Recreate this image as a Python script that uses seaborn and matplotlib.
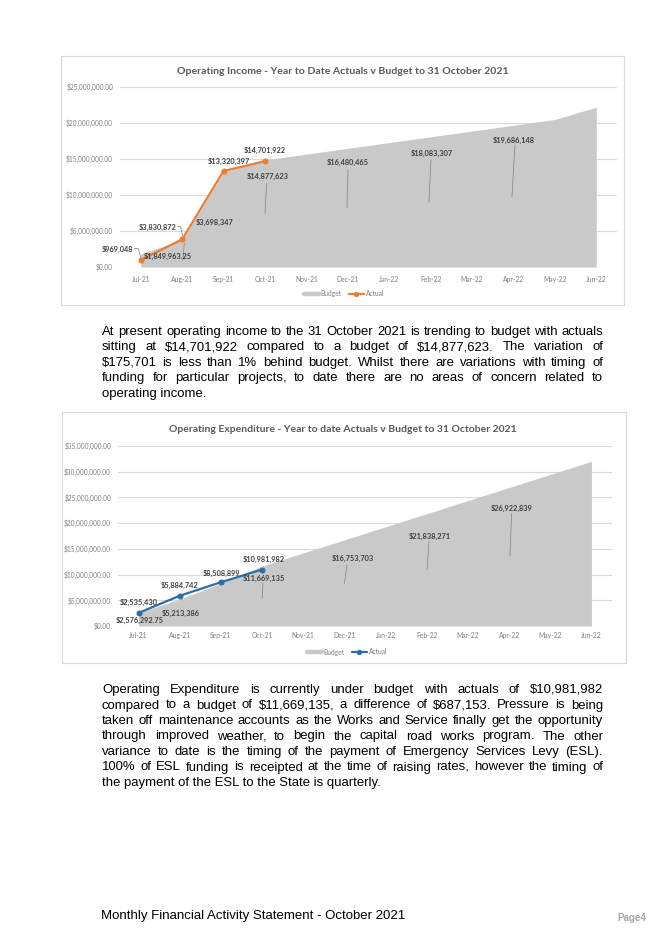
import matplotlib
matplotlib.use("Agg")
import matplotlib.pyplot as plt
import seaborn as sns
import numpy as np
import pandas as pd
from matplotlib.lines import Line2D
from matplotlib.patches import Rectangle

# ---------------- data ----------------
months = ["Jul-21", "Aug-21", "Sep-21", "Oct-21", "Nov-21", "Dec-21",
          "Jan-22", "Feb-22", "Mar-22", "Apr-22", "May-22", "Jun-22"]

income_budget = [1849963.25, 3698347, 13150000, 14877623, 15680000, 16480465,
                 17280000, 18083307, 18880000, 19686148, 20490000, 22200000]
income_actual = [969048, 3830872, 13320397, 14701922]

exp_budget = [2576292.75, 5213386, 8300000, 11669135, 14210000, 16753703,
              19300000, 21838271, 24380000, 26922839, 29470000, 32000000]
exp_actual = [2535430, 5884742, 8508899, 10981982]

income_title = "Operating Income - Year to Date Actuals v Budget to 31 October 2021"
exp_title = "Operating Expenditure - Year to date Actuals v Budget to 31 October 2021"

para1 = [
    "At present operating income to the 31 October 2021 is trending to budget with actuals",
    "sitting at $14,701,922 compared to a budget of $14,877,623. The variation of",
    "$175,701 is less than 1% behind budget. Whilst there are variations with timing of",
    "funding for particular projects, to date there are no areas of concern related to",
    "operating income.",
]
para2 = [
    "Operating Expenditure is currently under budget with actuals of $10,981,982",
    "compared to a budget of $11,669,135, a difference of $687,153. Pressure is being",
    "taken off maintenance accounts as the Works and Service finally get the opportunity",
    "through improved weather, to begin the capital road works program. The other",
    "variance to date is the timing of the payment of Emergency Services Levy (ESL).",
    "100% of ESL funding is receipted at the time of raising rates, however the timing of",
    "the payment of the ESL to the State is quarterly.",
]
footer = "Monthly Financial Activity Statement - October 2021"
page_no = "Page4"

# ---------------- style ----------------
sns.set_theme(style="white")
plt.rcParams["font.family"] = ["Lato", "DejaVu Sans"]
plt.rcParams["text.parse_math"] = False

W, H, DPI = 665, 941, 100
fig = plt.figure(figsize=(W / DPI, H / DPI), dpi=DPI)
fig.patch.set_facecolor("white")
renderer = fig.canvas.get_renderer()

BUDGET_C = "#C9C9C9"
GRID_C = "#D9D9D9"
TICK_C = "#7F7F7F"
TITLE_C = "#595959"
LABEL_C = "#404040"
LEADER_C = "#8C8C8C"


def fx(x):
    return x / W


def fy(y):
    return 1 - y / H


def add_axes_px(left, top, right, bottom):
    return fig.add_axes([fx(left), fy(bottom), (right - left) / W, (bottom - top) / H])


def fit_text(t, target):
    fs = t.get_fontsize()
    w = t.get_window_extent(renderer).width
    t.set_fontsize(fs * target / w)


def box(left, top, right, bottom):
    fig.add_artist(Rectangle((fx(left), fy(bottom)), (right - left) / W, (bottom - top) / H,
                             transform=fig.transFigure, fill=False, edgecolor="#D9D9D9", lw=0.8))


def draw_chart(ax, budget, actual, ymax, step, color, title, title_xy, title_w,
               labels, legend_xy, xpad):
    idx = np.arange(len(months))
    df_b = pd.DataFrame({"i": idx, "v": budget})
    df_a = pd.DataFrame({"i": idx[:len(actual)], "v": actual})
    ax.fill_between(df_b["i"], df_b["v"], color=BUDGET_C, lw=0, zorder=2)
    sns.lineplot(data=df_a, x="i", y="v", ax=ax, color=color, lw=1.6, marker="o",
                 markersize=3.6, markeredgecolor=color, zorder=4)
    ax.set_xlim(-0.5, len(months) - 0.5)
    ax.set_ylim(0, ymax)
    ax.set_xticks(idx)
    ax.set_xticklabels(months)
    yt = np.arange(0, ymax + 1, step)
    ax.set_yticks(yt)
    ax.set_yticklabels(["${:,.2f}".format(v) for v in yt])
    ax.set_xlabel("")
    ax.set_ylabel("")
    for s in ax.spines.values():
        s.set_visible(False)
    ax.yaxis.grid(True, color=GRID_C, lw=0.8, zorder=0)
    ax.set_axisbelow(True)
    ax.tick_params(axis="y", length=0, pad=5, labelsize=4.7, labelcolor=TICK_C)
    ax.tick_params(axis="x", length=0, pad=xpad, labelsize=4.9, labelcolor=TICK_C)
    ax.set_facecolor("none")

    t = fig.text(fx(title_xy[0]), fy(title_xy[1]), title, ha="center", va="center",
                 fontsize=8, fontweight="bold", color=TITLE_C)
    fit_text(t, title_w)

    series = {"a": actual, "b": budget}
    for key, i, txt, dx, dy, leader in labels:
        X, Y = ax.transData.transform((i, series[key][i]))
        fig.text(fx(X + dx), fy(H - Y + dy), txt, ha="center", va="center",
                 fontsize=5.3, fontweight="bold", color=LABEL_C, zorder=6)
        if leader:
            xs = [fx(X + p[0]) for p in leader]
            ys = [fy(H - Y + p[1]) for p in leader]
            fig.add_artist(Line2D(xs, ys, transform=fig.transFigure, color=LEADER_C,
                                  lw=0.6, zorder=5))

    handles = [Line2D([], [], color=BUDGET_C, lw=3.2),
               Line2D([], [], color=color, lw=1.6, marker="o", markersize=2.8)]
    fig.legend(handles, ["Budget", "Actual"], loc="center",
               bbox_to_anchor=(fx(legend_xy[0]), fy(legend_xy[1])), ncol=2,
               frameon=False, fontsize=4.8, handlelength=2.3, handletextpad=0.3,
               columnspacing=1.0, labelcolor=TICK_C)


# ---------------- chart 1 ----------------
box(61, 56, 624, 305)
ax1 = add_axes_px(120, 87, 617, 267)
labels1 = [
    ("a", 0, "$969,048", -23.2, -10.7, [(-6.4, -11.4), (-2.4, -11.4), (0, -2.7)]),
    ("b", 0, "$1,849,963.25", 26.8, 3.0, None),
    ("a", 1, "$3,830,872", -24.8, -12.3, [(-5, -13.3), (-1.6, -12.7), (0.4, -4)]),
    ("b", 1, "$3,698,347", 32.9, -17.7, [(2.2, 2.9), (0.6, 20.3)]),
    ("a", 2, "$13,320,397", 5.2, -9.3, None),
    ("a", 3, "$14,701,922", -0.5, -10.3, None),
    ("b", 3, "$14,877,623", 2.5, 16.8, [(1.7, 23.4), (0, 53.4)]),
    ("b", 5, "$16,480,465", 0, 13.7, [(0.2, 21.7), (-0.8, 59.7)]),
    ("b", 7, "$18,083,307", 1.3, 16.2, [(0.3, 23.2), (-1.7, 65.2)]),
    ("b", 9, "$19,686,148", 0.5, 14.7, [(1.5, 19.7), (-1.5, 71.7)]),
]
draw_chart(ax1, income_budget, income_actual, 25e6, 5e6, "#ED7D31", income_title,
           (342.5, 71), 331, labels1, (344, 293.5), 6.5)

# ---------------- chart 2 ----------------
box(62, 412, 626, 663)
ax2 = add_axes_px(118, 446, 612, 626)
labels2 = [
    ("a", 0, "$2,535,430", 0.3, -10.7, None),
    ("b", 0, "$2,576,292.75", 0.8, 7.2, None),
    ("a", 1, "$5,884,742", 0.1, -10.7, None),
    ("b", 1, "$5,213,386", 0.7, 14.1, None),
    ("a", 2, "$8,508,899", 0.4, -8.9, None),
    ("a", 3, "$10,981,982", 1.3, -10.5, None),
    ("b", 3, "$11,669,135", 1.4, 12.3, [(0.8, 17.3), (0.1, 32.3)]),
    ("b", 5, "$16,753,703", 8.4, 18.5, [(2.5, 25.2), (0, 43.5)]),
    ("b", 7, "$21,838,271", 3.1, 22.3, [(2.2, 28), (0.4, 55.6)]),
    ("b", 9, "$26,922,839", 2.2, 20.8, [(2.6, 25.8), (0.8, 68.5)]),
]
draw_chart(ax2, exp_budget, exp_actual, 35e6, 5e6, "#2E6DA4", exp_title,
           (342.7, 430), 349, labels2, (347, 652), 4.5)

# ---------------- body text ----------------
BODY_FONT = ["Liberation Sans", "DejaVu Sans"]
probe = fig.text(0, 0, para2[-1], fontsize=10, family=BODY_FONT)
fit_text(probe, 278.5)
BODY_FS = probe.get_fontsize()
probe.remove()


def justified(lines, x0, x1, y0, dy):
    for k, line in enumerate(lines):
        yb = y0 + k * dy + 4.5
        if k == len(lines) - 1:
            fig.text(fx(x0), fy(yb), line, fontsize=BODY_FS, family=BODY_FONT,
                     color="black", va="baseline", ha="left")
            continue
        words = line.split(" ")
        ts = [fig.text(0, fy(yb), w, fontsize=BODY_FS, family=BODY_FONT,
                       color="black", va="baseline", ha="left") for w in words]
        widths = [t.get_window_extent(renderer).width for t in ts]
        gap = (x1 - x0 - sum(widths)) / (len(words) - 1)
        x = x0
        for t, w in zip(ts, widths):
            t.set_x(fx(x))
            x += w + gap


justified(para1, 102, 603, 330.5, 15.4)
justified(para2, 102, 603, 688.5, 15.5)

ft = fig.text(fx(101), fy(916), footer, fontsize=10, family=BODY_FONT, color="black",
              va="center", ha="left")
fit_text(ft, 306)
pt = fig.text(fx(646), fy(918), page_no, fontsize=7, family=BODY_FONT, color="#A6A6A6",
              fontweight="bold", va="center", ha="right")

fig.savefig("out.png", dpi=DPI, facecolor="white")
